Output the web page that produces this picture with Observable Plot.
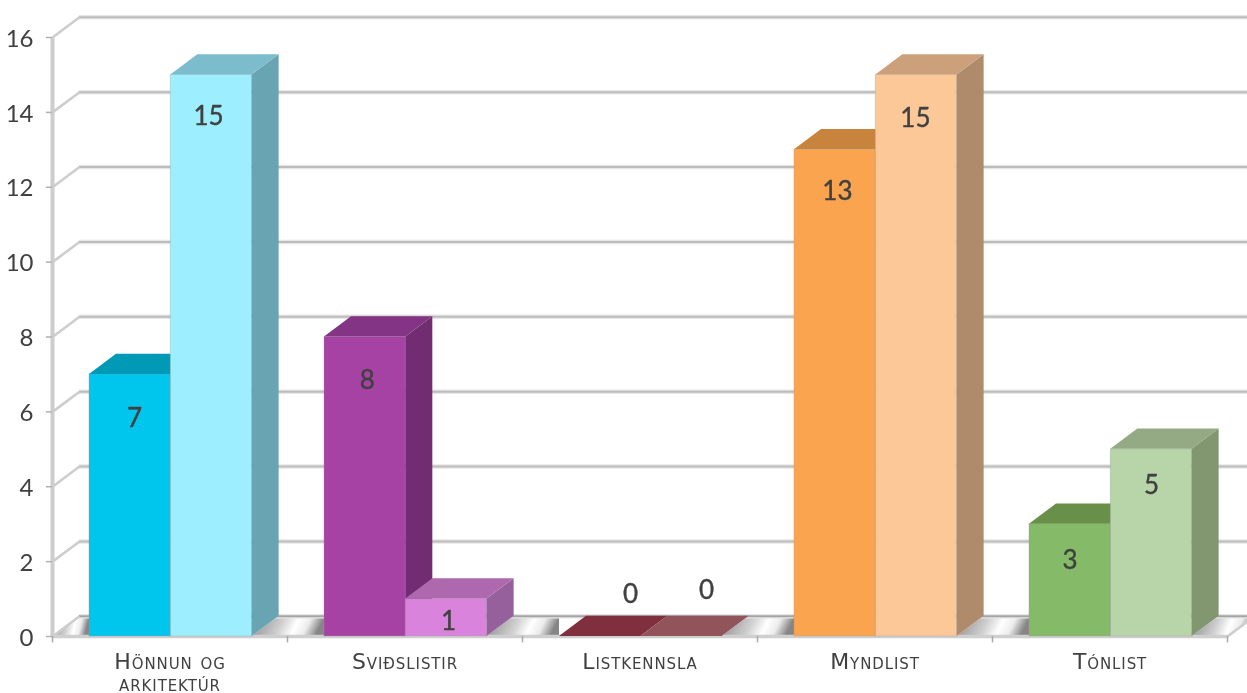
<!DOCTYPE html>
<html>
<head>
<meta charset="utf-8">
<style>
html,body{margin:0;padding:0;background:#fff;overflow:hidden}
svg{display:block;filter:blur(.55px)}
g[font-variant="small-caps"] text{letter-spacing:.9px}
</style>
<script src="https://cdn.jsdelivr.net/npm/d3@7"></script>
<script src="https://cdn.jsdelivr.net/npm/@observablehq/plot@0.6"></script>
</head>
<body>
<script>
const categories = ["Hönnun og\narkitektúr", "Sviðslistir", "Listkennsla", "Myndlist", "Tónlist"];
const seriesA = [7, 8, 0, 13, 3];
const seriesB = [15, 1, 0, 15, 5];
const yTicks = [0, 2, 4, 6, 8, 10, 12, 14, 16];

const frontA = ["#00c6ee", "#a642a4", "#7f2f3d", "#fba450", "#85ba68"];
const topA   = ["#009ab6", "#843484", "#7f2f3d", "#c8833d", "#689048"];
const sideA  = ["#007f96", "#722d72", "#7f2f3d", "#a8733f", "#5f8244"];
const frontB = ["#9deeff", "#da83dc", "#92545b", "#fdc898", "#b7d5a8"];
const topB   = ["#7cbccc", "#ae68ae", "#92545b", "#cca07a", "#93aa85"];
const sideB  = ["#69a4b2", "#96609c", "#92545b", "#b08b6b", "#82966f"];

const labelXA = [0.349, 1.34, 2.46, 3.34, 4.33];
const labelXB = [0.664, 1.685, 2.783, 3.672, 4.677];
const labelYA = [5.82, 6.84, 1.12, 11.89, 2.03];
const labelYB = [13.89, 0.40, 1.23, 13.84, 4.03];

// 3-D box proportions in scale units
const inset = 0.1574, barW = 0.346, depthX = 0.115, depthY = 0.54;

const boxes = (values, front, top, side, slot) => values.map((v, i) => {
  const l = i + inset + slot * barW, r = l + barW;
  return {i, v, l, r, front: front[i], top: top[i], side: side[i]};
});
const A = boxes(seriesA, frontA, topA, sideA, 0);
const B = boxes(seriesB, frontB, topB, sideB, 1);

const sideRows = s => s.filter(b => b.v > 0).flatMap(b => [
  {id: b.i, fill: b.side, x: b.r, y1: 0, y2: b.v},
  {id: b.i, fill: b.side, x: b.r + depthX, y1: depthY, y2: b.v + depthY}
]);
const topRows = s => s.flatMap(b => [
  {id: b.i, fill: b.top, y: b.v, x1: b.l, x2: b.r},
  {id: b.i, fill: b.top, y: b.v + depthY, x1: b.l + depthX, x2: b.r + depthX}
]);

// floor pieces between boxes: the far corner stops at the next box, except past the last one
const edgesL = [0, ...B.map(b => b.r)];
const edgesR = [...A.map(b => b.l), categories.length];
const floorRows = edgesL.flatMap((e, k) => [
  {id: k, y: 0, x1: e, x2: edgesR[k]},
  {id: k, y: depthY, x1: e + depthX, x2: edgesR[k] + (k === categories.length ? depthX : 0)}
]);

const boxMarks = (s) => {
  const tall = s.filter(b => b.v > 0);
  return [
    Plot.rect(tall, {x1: "l", x2: "r", y1: 0, y2: "v", fill: "front", stroke: "#9a9a9a", strokeOpacity: 0.35, strokeWidth: 1}),
    Plot.areaY(sideRows(s), {x: "x", y1: "y1", y2: "y2", z: "id", fill: "fill"}),
    Plot.areaX(topRows(s), {y: "y", x1: "x1", x2: "x2", z: "id", fill: "fill"})
  ];
};

const floorDefs = () => {
  const defs = d3.create("svg:defs");
  const g = defs.append("linearGradient").attr("id", "floorGrad")
    .attr("x1", 0.12).attr("y1", 0).attr("x2", 1).attr("y2", 0.12);
  [[0, "#9a9a9a"], [0.38, "#cfcfcf"], [0.62, "#ffffff"], [0.8, "#ececec"], [1, "#868686"]]
    .forEach(([o, c]) => g.append("stop").attr("offset", o).attr("stop-color", c));
  return defs.node();
};

const labels = [
  ...seriesA.map((v, i) => ({t: String(v), x: labelXA[i], y: labelYA[i]})),
  ...seriesB.map((v, i) => ({t: String(v), x: labelXB[i], y: labelYB[i]}))
];

const chart = Plot.plot({
  width: 1247,
  height: 693,
  marginTop: 37,
  marginBottom: 57,
  marginLeft: 52,
  marginRight: 20,
  style: {background: "#fff", fontFamily: "Lato"},
  x: {domain: [0, categories.length], axis: null},
  y: {domain: [0, 16], axis: null},
  marks: [
    floorDefs,
    Plot.areaX(floorRows, {y: "y", x1: "x1", x2: "x2", z: "id", fill: "url(#floorGrad)"}),
    // back wall grid
    Plot.ruleY(yTicks, {y: d => d + depthY, x1: depthX, x2: categories.length + depthX, stroke: "#e6e6e6", strokeWidth: 4.5}),
    Plot.ruleY(yTicks, {y: d => d + depthY, x1: depthX, x2: categories.length + depthX, stroke: d => d === 0 ? "#a4a4a4" : "#bcbcbc", strokeWidth: 2}),
    // side wall grid
    Plot.link(yTicks, {x1: 0, x2: depthX, y1: d => d, y2: d => d + depthY, stroke: "#cdcdcd", strokeWidth: 2.5}),
    Plot.link([categories.length], {x1: d => d, x2: d => d + depthX, y1: 0, y2: depthY, stroke: "#cdcdcd", strokeWidth: 2.5}),
    // axis lines
    Plot.ruleX([0], {y1: 0, y2: 16, stroke: "#cdcdcd", strokeWidth: 4}),
    Plot.ruleY([0], {x1: 0, x2: categories.length, stroke: "#cfcfcf", strokeWidth: 3.5}),
    Plot.ruleY(yTicks, {x1: 0, x2: -0.026, stroke: "#b0b0b0", strokeWidth: 1.5}),
    Plot.axisY(yTicks, {anchor: "left", tickSize: 0, tickPadding: 19, dy: 1.5, fontSize: 24, fontVariant: "normal", fill: "#404040", stroke: "none", tickFormat: d => String(d), label: null}),
    Plot.ruleX(d3.range(categories.length + 1), {x: d => d, y1: 0, y2: -0.17, stroke: "#a8a8a8", strokeWidth: 1.5}),
    ...boxMarks(A),
    ...boxMarks(B),
    Plot.text(labels, {x: "x", y: "y", text: "t", fontSize: 26, fill: "#404040", stroke: "#404040", strokeWidth: 0.4}),
    Plot.text(categories, {
      x: (d, i) => i + 0.5, y: 0, text: d => d, dy: 16.5, lineAnchor: "top", lineHeight: 1.02,
      fontFamily: "DejaVu Sans", fontSize: 22, fontVariant: "small-caps", fill: "#404040"
    })
  ]
});
document.body.appendChild(chart);
</script>
</body>
</html>
